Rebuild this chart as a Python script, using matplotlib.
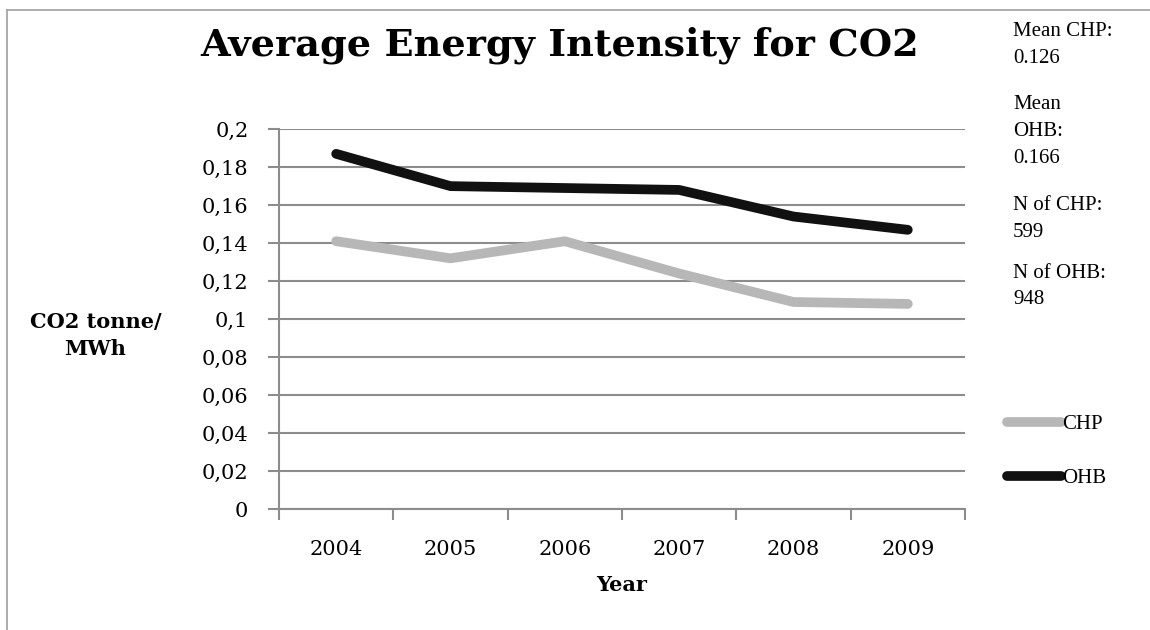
import matplotlib
matplotlib.use("Agg")
import matplotlib.pyplot as plt
from matplotlib.lines import Line2D
import numpy as np

years = ["2004", "2005", "2006", "2007", "2008", "2009"]
chp = [0.141, 0.132, 0.141, 0.124, 0.109, 0.108]
ohb = [0.187, 0.170, 0.169, 0.168, 0.154, 0.147]
notes = ["Mean CHP:\n0.126", "Mean\nOHB:\n0.166", "N of CHP:\n599", "N of OHB:\n948"]

serif = "DejaVu Serif"
times = "Liberation Serif"
grey = "#8c8c8c"

fig = plt.figure(figsize=(11.5, 6.3), dpi=100)
ax = fig.add_axes([0.2426, 0.192, 0.5965, 0.603])

x = np.arange(len(years))
ax.plot(x, chp, color="#b7b7b7", lw=7, solid_capstyle="round", solid_joinstyle="round", zorder=3)
ax.plot(x, ohb, color="#111111", lw=7, solid_capstyle="round", solid_joinstyle="round", zorder=4)

ax.set_xlim(-0.5, len(years) - 0.5)
ax.set_ylim(0, 0.2)
yt = np.arange(0, 0.2001, 0.02)
ax.set_yticks(yt)
ax.set_yticklabels(["0"] + [("%.2f" % v).replace(".", ",").rstrip("0") if v >= 0.1 else ("%.2f" % v).replace(".", ",") for v in yt[1:]])
ax.set_xticks(x)
ax.set_xticklabels(years)
ax.set_xticks(np.arange(-0.5, len(years)), minor=True)
ax.tick_params(axis="x", which="major", length=0, pad=22)
ax.tick_params(axis="x", which="minor", length=8, width=1.5, color=grey, direction="out")
ax.tick_params(axis="y", length=8, width=1.5, color=grey, direction="out", pad=14)
for lab in ax.get_xticklabels() + ax.get_yticklabels():
    lab.set_fontfamily(serif)
    lab.set_fontsize(15)

ax.grid(axis="y", color=grey, lw=1.5)
ax.set_axisbelow(True)
for s in ["top", "right"]:
    ax.spines[s].set_visible(False)
for s in ["left", "bottom"]:
    ax.spines[s].set_color(grey)
    ax.spines[s].set_linewidth(1.5)

fig.text(0.487, 0.928, "Average Energy Intensity for CO2", ha="center", va="center",
         fontsize=27.5, fontweight="bold", family=serif)
ax.set_xlabel("Year", fontsize=15, fontweight="bold", family=serif, labelpad=12)
fig.text(0.083, 0.467, "CO2 tonne/\nMWh", ha="center", va="center", fontsize=15,
         fontweight="bold", family=serif, linespacing=1.45)

ys = [0.929, 0.791, 0.652, 0.545]
for t, yy in zip(notes, ys):
    fig.text(0.881, yy, t, ha="left", va="center", fontsize=15, family=times, linespacing=1.55)

handles = [Line2D([], [], color="#b7b7b7", lw=7, solid_capstyle="round"),
           Line2D([], [], color="#111111", lw=7, solid_capstyle="round")]
leg = fig.legend(handles, ["CHP", "OHB"], loc="center left", bbox_to_anchor=(0.859, 0.284),
                 frameon=False, prop={"family": times, "size": 15}, handlelength=2.6,
                 handletextpad=0.05, labelspacing=1.65)

# outer chart border
fig.add_artist(Line2D([0.006, 0.006], [0.0, 0.984], transform=fig.transFigure, color="#a0a0a0", lw=1.2))
fig.add_artist(Line2D([0.006, 1.0], [0.984, 0.984], transform=fig.transFigure, color="#a0a0a0", lw=1.2))

fig.savefig("out.png", dpi=100)
